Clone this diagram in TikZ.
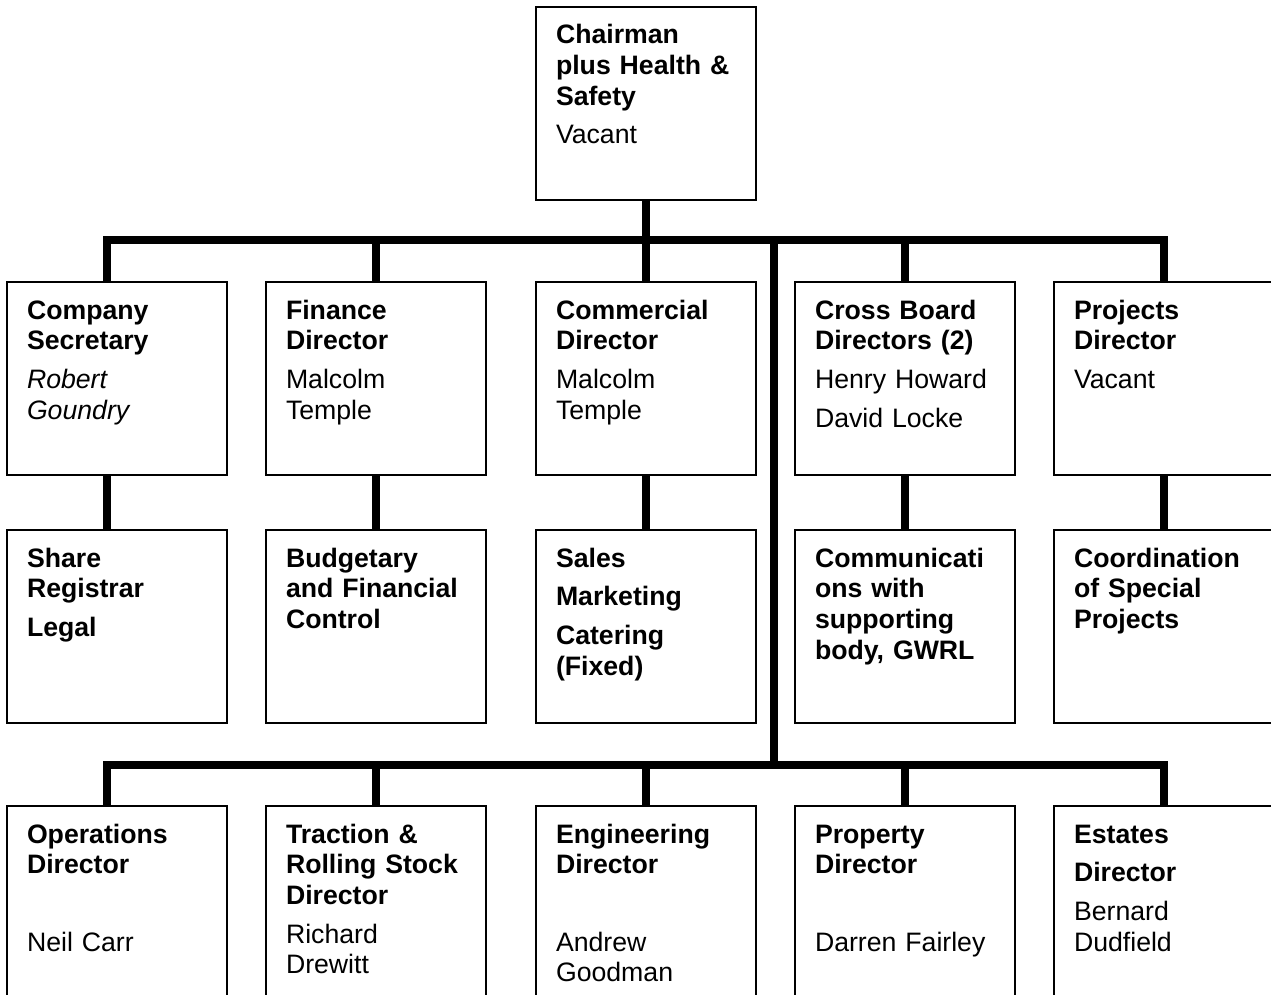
\documentclass[tikz,border=0pt]{standalone}
\usepackage{fontspec}
\setmainfont{Liberation Sans}
\usetikzlibrary{positioning}
\tikzset{
post/.style={draw, line width=0.9pt, align=left, anchor=north west, outer sep=0pt,
  text width=135pt, inner xsep=15pt, inner ysep=0pt,
  text height=27.75pt, text depth=117pt,
  font=\fontsize{20pt}{23pt}\selectfont\bfseries}, % one box of the chart
link/.style={line width=5.6pt}, % the heavy lines between the boxes
node distance=41.25pt and 29.25pt, % gaps between rows and columns
}

\begin{document}
\begin{tikzpicture}[x=0.75pt, y=-0.75pt]
    \useasboundingbox (0,0) rectangle (1271,995);
    \clip (0,0) rectangle (1271,995);
    % directors
    \node[post] (cs) at (7,282) {Company\\Secretary\\[6pt]\mdseries\itshape Robert\\Goundry};
    \node[post, right=of cs] (fin) {Finance\\Director\\[6pt]\mdseries Malcolm\\Temple};
    \node[post, right=37.5pt of fin] (com) {Commercial\\Director\\[6pt]\mdseries Malcolm\\Temple};
    \node[post, right=of com] (cb) {Cross Board\\Directors (2)\\[6pt]\mdseries Henry Howard\\[6pt]David Locke};
    \node[post, right=of cb] (proj) {Projects\\Director\\[6pt]\mdseries Vacant};
    \node[post, above=61.5pt of com] (ch) {Chairman\\plus Health \&\\Safety\\[6pt]\mdseries Vacant};
    % their duties
    \node[post, below=of cs] (share) {Share\\Registrar\\[6pt]Legal};
    \node[post, below=of fin] (bud) {Budgetary\\and Financial\\Control};
    \node[post, below=of com] (sales) {Sales\\[6pt]Marketing\\[6pt]Catering\\(Fixed)};
    \node[post, below=of cb] (comm) {Communicati\\ons with\\supporting\\body, GWRL};
    \node[post, below=of proj] (coord) {Coordination\\of Special\\Projects};
    % second row of directors
    \node[post, below=62.25pt of share] (ops) {Operations\\Director\\[35pt]\mdseries Neil Carr};
    \node[post, below=62.25pt of bud] (trac) {Traction \&\\Rolling Stock\\Director\\[6pt]\mdseries Richard\\Drewitt};
    \node[post, below=62.25pt of sales] (eng) {Engineering\\Director\\[35pt]\mdseries Andrew\\Goodman};
    \node[post, below=62.25pt of comm] (prop) {Property\\Director\\[35pt]\mdseries Darren Fairley};
    \node[post, below=62.25pt of coord] (est) {Estates\\[6pt]Director\\[6pt]\mdseries Bernard\\Dudfield};
    \coordinate (split) at (774,240);
    \coordinate (join) at (774,765);

    \draw[link] (ch) -- (com)
    ([xshift=-7.5pt]cs.north) -- ++(0,-42) -| (proj.north)
    (fin.north) -- ++(0,-42)
    (cb.north) -- ++(0,-42)
    (split) -- (join)
    ([xshift=-7.5pt]ops.north) -- ++(0,-41) -| (est.north)
    (trac.north) -- ++(0,-41)
    (eng.north) -- ++(0,-41)
    (prop.north) -- ++(0,-41)
    ([xshift=-7.5pt]cs.south) -- ([xshift=-7.5pt]share.north)
    (fin) -- (bud)
    (com) -- (sales)
    (cb) -- (comm)
    (proj) -- (coord);
\end{tikzpicture}
\end{document}
